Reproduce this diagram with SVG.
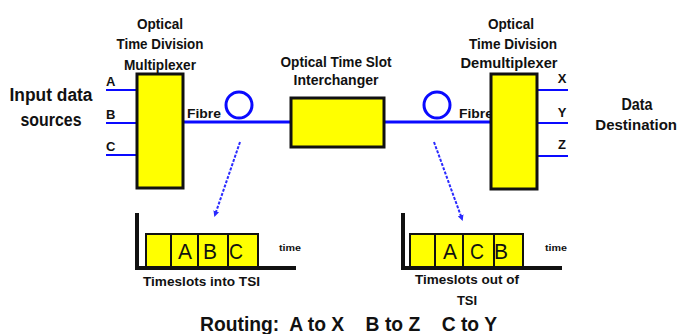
<svg xmlns="http://www.w3.org/2000/svg" width="682" height="334" viewBox="0 0 682 334">
<defs>
<style>
.t{font-family:"Liberation Sans",Arial,sans-serif;font-weight:bold;fill:#111;}
.box{fill:#ffff00;stroke:#111;stroke-width:3;}
.slot{fill:#ffff00;stroke:#111;stroke-width:2;}
.fib{stroke:#0a0aff;stroke-width:3;fill:none;}
.io{stroke:#0a0aff;stroke-width:2;fill:none;}
.loop{stroke:#0a0aff;stroke-width:3;fill:none;}
.dash{stroke:#2a2aff;stroke-width:2;fill:none;stroke-dasharray:3 1.5;}
.axis{stroke:#111;stroke-width:4;fill:none;}
.big{font-family:"Liberation Sans",Arial,sans-serif;font-size:22px;fill:#111;}
</style>
<marker id="ah" markerWidth="6" markerHeight="6" refX="4" refY="3" orient="auto" markerUnits="userSpaceOnUse">
<path d="M0,0 L6,3 L0,6 z" fill="#2a2aff"/>
</marker>
</defs>
<rect width="682" height="334" fill="#fff"/>

<g id="connectors">
<line class="io" x1="106" y1="90" x2="137" y2="90"/>
<line class="io" x1="106" y1="123" x2="137" y2="123"/>
<line class="io" x1="106" y1="155" x2="137" y2="155"/>
<line class="fib" x1="184" y1="122" x2="292" y2="122"/>
<line class="fib" x1="384" y1="122" x2="491" y2="122"/>
<circle class="loop" cx="239" cy="105" r="13"/>
<circle class="loop" cx="437" cy="105" r="13"/>
<line class="io" x1="537" y1="90" x2="568" y2="90"/>
<line class="io" x1="537" y1="123" x2="568" y2="123"/>
<line class="io" x1="537" y1="156" x2="568" y2="156"/>
<line class="dash" x1="240" y1="142" x2="215" y2="215" marker-end="url(#ah)"/>
<line class="dash" x1="434" y1="142" x2="462" y2="219" marker-end="url(#ah)"/>
</g>

<g id="input-label">
<text class="t" x="51" y="101" font-size="18" text-anchor="middle" textLength="83" lengthAdjust="spacingAndGlyphs">Input  data</text>
<text class="t" x="51" y="126" font-size="18" text-anchor="middle" textLength="61" lengthAdjust="spacingAndGlyphs">sources</text>
<text class="t" x="106" y="86" font-size="13">A</text>
<text class="t" x="106" y="119" font-size="13">B</text>
<text class="t" x="106" y="151" font-size="13">C</text>
</g>

<g id="mux">
<text class="t" x="160" y="29" font-size="14" text-anchor="middle" textLength="46" lengthAdjust="spacingAndGlyphs">Optical</text>
<text class="t" x="160" y="49" font-size="14" text-anchor="middle" textLength="87" lengthAdjust="spacingAndGlyphs">Time Division</text>
<text class="t" x="160" y="70" font-size="14" text-anchor="middle" textLength="72" lengthAdjust="spacingAndGlyphs">Multiplexer</text>
<rect class="box" x="137" y="74" width="46" height="114"/>
<text class="t" x="187" y="118" font-size="13" textLength="34" lengthAdjust="spacingAndGlyphs">Fibre</text>
</g>

<g id="tsi">
<text class="t" x="336" y="67" font-size="14" text-anchor="middle" textLength="111" lengthAdjust="spacingAndGlyphs">Optical Time Slot</text>
<text class="t" x="336" y="85" font-size="14" text-anchor="middle" textLength="85" lengthAdjust="spacingAndGlyphs">Interchanger</text>
<rect class="box" x="291" y="98" width="93" height="49"/>
</g>

<g id="demux">
<text class="t" x="511" y="29" font-size="14" text-anchor="middle" textLength="46" lengthAdjust="spacingAndGlyphs">Optical</text>
<text class="t" x="513" y="49" font-size="14" text-anchor="middle" textLength="88" lengthAdjust="spacingAndGlyphs">Time Division</text>
<text class="t" x="509" y="68" font-size="14" text-anchor="middle" textLength="97" lengthAdjust="spacingAndGlyphs">Demultiplexer</text>
<text class="t" x="459" y="118" font-size="13" textLength="34" lengthAdjust="spacingAndGlyphs">Fibre</text>
<rect class="box" x="491" y="74" width="46" height="115"/>
</g>

<g id="output-label">
<text class="t" x="562" y="83" font-size="13" text-anchor="middle">X</text>
<text class="t" x="562" y="117" font-size="13" text-anchor="middle">Y</text>
<text class="t" x="562" y="149" font-size="13" text-anchor="middle">Z</text>
<text class="t" x="637" y="110" font-size="17" text-anchor="middle" textLength="31" lengthAdjust="spacingAndGlyphs">Data</text>
<text class="t" x="677" y="130" font-size="15" text-anchor="end">Destination</text>
</g>

<g id="chart-in">
<rect class="slot" x="146" y="234" width="25" height="33"/>
<rect class="slot" x="171" y="234" width="27" height="33"/>
<rect class="slot" x="198" y="234" width="30" height="33"/>
<rect class="slot" x="228" y="234" width="30" height="33"/>
<polyline class="axis" points="137,213 137,268 296,268"/>
<text class="big" x="185" y="259" text-anchor="middle" textLength="14" lengthAdjust="spacingAndGlyphs">A</text>
<text class="big" x="210" y="259" text-anchor="middle" textLength="14" lengthAdjust="spacingAndGlyphs">B</text>
<text class="big" x="236" y="259" text-anchor="middle" textLength="14" lengthAdjust="spacingAndGlyphs">C</text>
<text class="t" x="279" y="251" font-size="9" textLength="22" lengthAdjust="spacingAndGlyphs">time</text>
<text class="t" x="143" y="286" font-size="13" textLength="117" lengthAdjust="spacingAndGlyphs">Timeslots into TSI</text>
</g>

<g id="chart-out">
<rect class="slot" x="410" y="234" width="25" height="33"/>
<rect class="slot" x="435" y="234" width="28" height="33"/>
<rect class="slot" x="463" y="234" width="31" height="33"/>
<rect class="slot" x="494" y="234" width="29" height="33"/>
<polyline class="axis" points="403,213 403,268 562,268"/>
<text class="big" x="450" y="259" text-anchor="middle" textLength="14" lengthAdjust="spacingAndGlyphs">A</text>
<text class="big" x="477" y="259" text-anchor="middle" textLength="14" lengthAdjust="spacingAndGlyphs">C</text>
<text class="big" x="501" y="259" text-anchor="middle" textLength="14" lengthAdjust="spacingAndGlyphs">B</text>
<text class="t" x="545" y="251" font-size="9" textLength="22" lengthAdjust="spacingAndGlyphs">time</text>
<text class="t" x="467" y="284" font-size="13" text-anchor="middle" textLength="104" lengthAdjust="spacingAndGlyphs">Timeslots out of</text>
<text class="t" x="467" y="305" font-size="13" text-anchor="middle">TSI</text>
</g>

<g id="routing">
<text class="t" x="200" y="331" font-size="21" textLength="297" lengthAdjust="spacingAndGlyphs" xml:space="preserve">Routing:  A to X    B to Z    C to Y</text>
</g>
</svg>
